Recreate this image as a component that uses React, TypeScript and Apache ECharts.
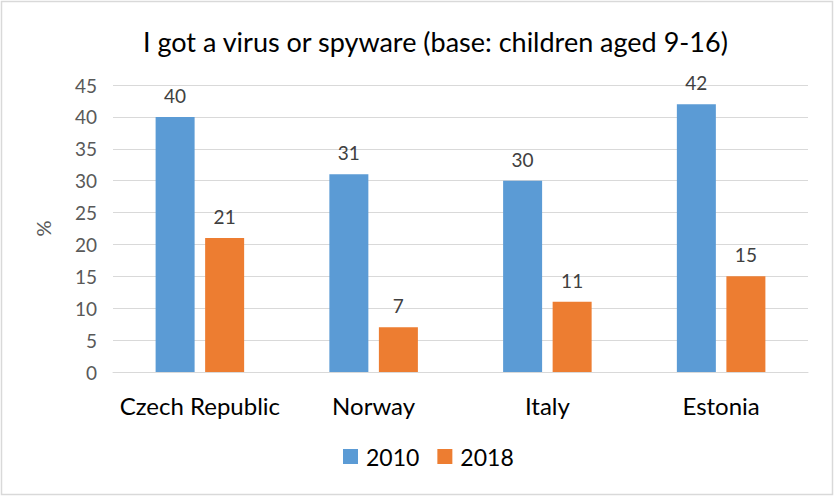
import React, { useEffect, useRef } from "react";
import * as echarts from "echarts";

const categories = ["Czech Republic", "Norway", "Italy", "Estonia"];
const values2010 = [40, 31, 30, 42];
const values2018 = [21, 7, 11, 15];
const seriesNames = ["2010", "2018"];
const titleText = "I got a virus or spyware (base: children aged 9-16)";

const FONT = "Lato, 'Open Sans', sans-serif";

export default function App() {
  const ref = useRef<HTMLDivElement>(null);
  useEffect(() => {
    if (!ref.current) return;
    const chart = echarts.init(ref.current, null, { renderer: "svg" });
    chart.setOption({
      animation: false,
      backgroundColor: "#ffffff",
      title: {
        text: titleText,
        left: 138,
        top: 23,
        textStyle: { fontFamily: FONT, fontSize: 27, fontWeight: "normal", color: "#000000" },
      },
      graphic: [
        {
          type: "rect",
          shape: { x: 1.5, y: 1.5, width: 831, height: 493 },
          style: { fill: "none", stroke: "#d9d9d9", lineWidth: 1.5 },
          silent: true,
        },
      ],
      legend: {
        bottom: 24,
        left: 338,
        itemWidth: 15,
        itemHeight: 15,
        itemGap: 18,
        icon: "rect",
        textStyle: { fontFamily: FONT, fontSize: 23, color: "#000000", padding: [0, 0, 0, 3] },
        data: seriesNames,
      },
      grid: { left: 113, right: 27, top: 85, bottom: 125 },
      xAxis: {
        type: "category",
        data: categories,
        axisLine: { lineStyle: { color: "#d9d9d9" } },
        axisTick: { show: false },
        axisLabel: { fontFamily: FONT, fontSize: 24, color: "#000000", margin: 21, interval: 0, hideOverlap: false },
      },
      yAxis: {
        type: "value",
        min: 0,
        max: 45,
        interval: 5,
        name: "%",
        nameLocation: "middle",
        nameGap: 60,
        nameRotate: 90,
        nameTextStyle: { fontFamily: FONT, fontSize: 20, color: "#595959" },
        axisLine: { show: false },
        axisTick: { show: false },
        axisLabel: { fontFamily: FONT, fontSize: 19, color: "#595959", margin: 16 },
        splitLine: { lineStyle: { color: "#d9d9d9", width: 1 } },
      },
      series: [
        {
          name: seriesNames[0],
          type: "bar",
          data: values2010,
          barWidth: 39,
          barGap: "27%",
          itemStyle: { color: "#5b9bd5" },
          label: {
            show: true,
            position: "top",
            distance: 12,
            fontFamily: FONT,
            fontSize: 19,
            color: "#404040",
          },
        },
        {
          name: seriesNames[1],
          type: "bar",
          data: values2018,
          barWidth: 39,
          itemStyle: { color: "#ed7d31" },
          label: {
            show: true,
            position: "top",
            distance: 12,
            fontFamily: FONT,
            fontSize: 19,
            color: "#404040",
          },
        },
      ],
    });
    return () => chart.dispose();
  }, []);
  return (
    <div
      ref={ref}
      style={{ position: "absolute", left: 0, top: 0, width: 835, height: 497 }}
    />
  );
}
